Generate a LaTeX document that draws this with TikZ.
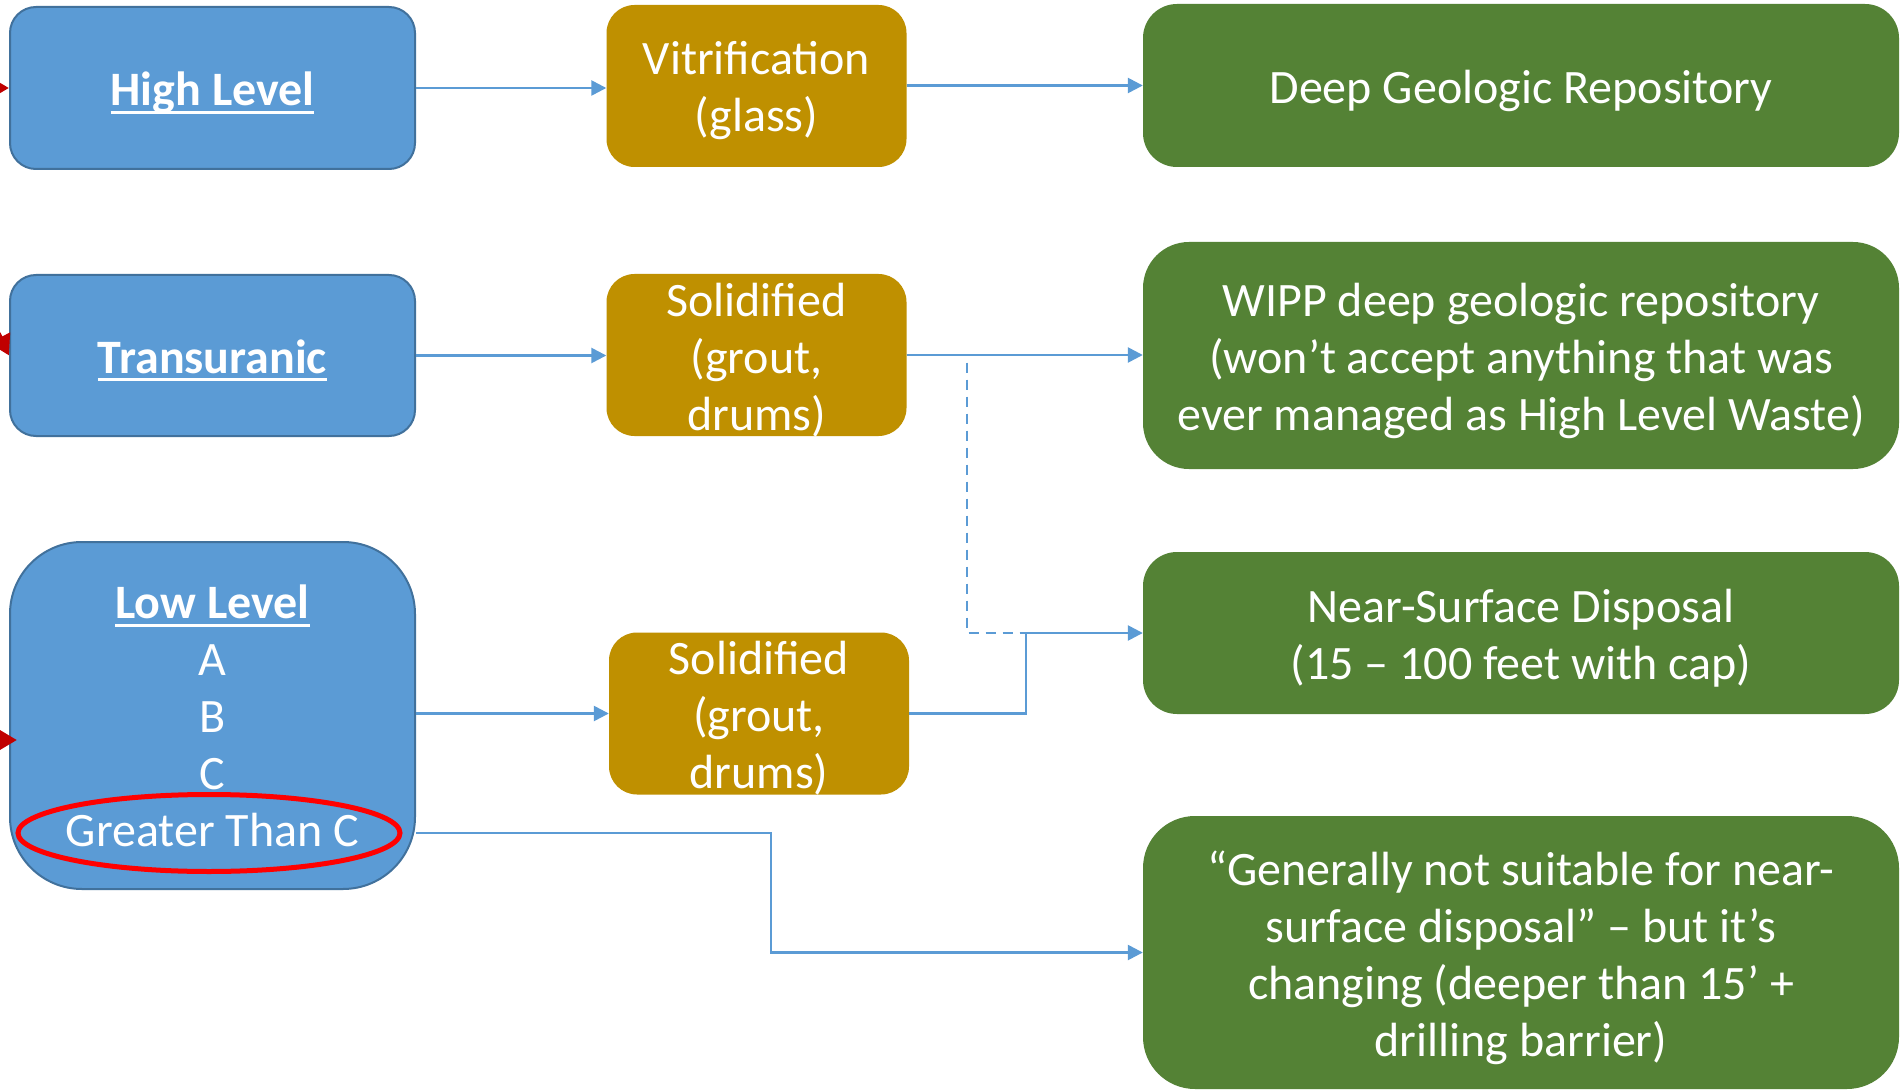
\documentclass[tikz,border=0pt]{standalone}
\usepackage{fontspec}
\setmainfont{Carlito}
\usetikzlibrary{arrows.meta,shapes.geometric}
\definecolor{bfill}{HTML}{5B9BD5}
\definecolor{bline}{HTML}{41719C}
\definecolor{gold}{HTML}{BF9000}
\definecolor{grn}{HTML}{548235}
\definecolor{conn}{HTML}{5B9BD5}
\definecolor{darkred}{HTML}{C00000}
\newcommand\myuline[1]{\setbox0\hbox{#1}\rlap{\copy0}\rule[-8pt]{\wd0}{3pt}}
\begin{document}
\begin{tikzpicture}[x=1pt,y=-1pt,
  txt/.style={text=white, align=center, inner sep=0pt, font=\fontsize{48}{57}\selectfont},
  boxlabel/.style={txt, yshift=-5pt},
  bluebox/.style={rectangle, fill=bfill, draw=bline, line width=2pt},
  goldbox/.style={rectangle, fill=gold, minimum width=300, minimum height=162, rounded corners=28},
  greenbox/.style={rectangle, fill=grn, minimum width=756},
  link/.style={draw=conn, line width=2.5pt, -{Triangle[length=15pt,width=15pt]}},
  plainlink/.style={draw=conn, line width=2.5pt},
  dashlink/.style={draw=conn, line width=2.5pt, dash pattern=on 10pt off 7pt},
  redarr/.style={draw=darkred, line width=6pt, -{Triangle[length=20pt,width=22pt]}}
]
\useasboundingbox (0,0) rectangle (1901,1091);
\fill[white] (0,0) rectangle (1901,1091);

% left column
\node[bluebox, minimum width=405, minimum height=162, rounded corners=26] (high) at (212.5,88) {};
\node[boxlabel] (hightxt) at (high) {\textbf{\myuline{High Level}}};
\node[bluebox, minimum width=405, minimum height=161, rounded corners=26] (trans) at (212.5,355.5) {};
\node[boxlabel] (transtxt) at (trans) {\textbf{\myuline{Transuranic}}};
\node[bluebox, minimum width=405, minimum height=347, rounded corners=72] (low) at (212.5,715.5) {};
\node[txt] (lowtxt) at (212.5,716) {\textbf{\myuline{Low Level}}\\A\\B\\C\\Greater Than C};
\node[ellipse, draw=red, line width=5pt, minimum width=382, minimum height=77, inner sep=0pt] (ring) at (209,833) {};

% middle column
\node[goldbox] (vit) at (756.5,86) {};
\node[boxlabel] (vittxt) at (vit) {Vitrification\\(glass)};
\node[goldbox] (sol1) at (756.5,355) {};
\node[boxlabel] (sol1txt) at (sol1) {Solidified\\(grout,\\drums)};
\node[goldbox] (sol2) at (759,713.5) {};
\node[boxlabel] (sol2txt) at (sol2) {Solidified\\(grout,\\drums)};

% right column
\node[greenbox, minimum height=163, rounded corners=34] (deep) at (1521,85.5) {};
\node[boxlabel] (deeptxt) at (deep) {Deep Geologic Repository};
\node[greenbox, minimum height=227, rounded corners=46] (wipp) at (1521,355.5) {};
\node[boxlabel] (wipptxt) at (wipp) {WIPP deep geologic repository\\(won’t accept anything that was\\ever managed as High Level Waste)};
\node[greenbox, minimum height=162, rounded corners=34] (near) at (1521,633) {};
\node[boxlabel] (neartxt) at (near) {Near-Surface Disposal\\(15 – 100 feet with cap)};
\node[greenbox, minimum height=273, rounded corners=52] (gen) at (1521,952.5) {};
\node[boxlabel] (gentxt) at (gen) {“Generally not suitable for near-\\surface disposal” – but it’s\\changing (deeper than 15’ +\\drilling barrier)};

% connectors
\coordinate (dashtop) at (967,355);
\coordinate (jog) at (1026,633);
\coordinate (gbend) at (771,833);
\draw[dashlink] (sol1.east |- dashtop) -- (dashtop) -- (dashtop |- jog) -- (jog);
\draw[link] (high.east) -- (high.east -| vit.west);
\draw[link] (vit.east |- deep.west) -- (deep.west);
\draw[link] (trans.east) -- (trans.east -| sol1.west);
\draw[link] (sol1.east |- dashtop) -- (dashtop -| wipp.west);
\draw[link] (low.east |- sol2) -- (sol2.west |- sol2);
\draw[plainlink] (sol2.east |- sol2) -| (jog);
\draw[link] (jog) -- (jog -| near.west);
\draw[link] (low.east |- ring) -- (gbend) |- (gen.west);

% partial red arrows entering from the left edge
\begin{scope}
\clip (0,0) rectangle (1901,1091);
\coordinate (r1) at (-40,125);
\coordinate (r2) at (-20,300);
\coordinate (r3) at (-60,740);
\coordinate (lowin) at (17,740);
\draw[redarr] (r1) to[out=0,in=180] (high.west);
\draw[redarr] (r2) -- (trans.west);
\draw[redarr] (r3) -- (lowin);
\end{scope}
\end{tikzpicture}
\end{document}
